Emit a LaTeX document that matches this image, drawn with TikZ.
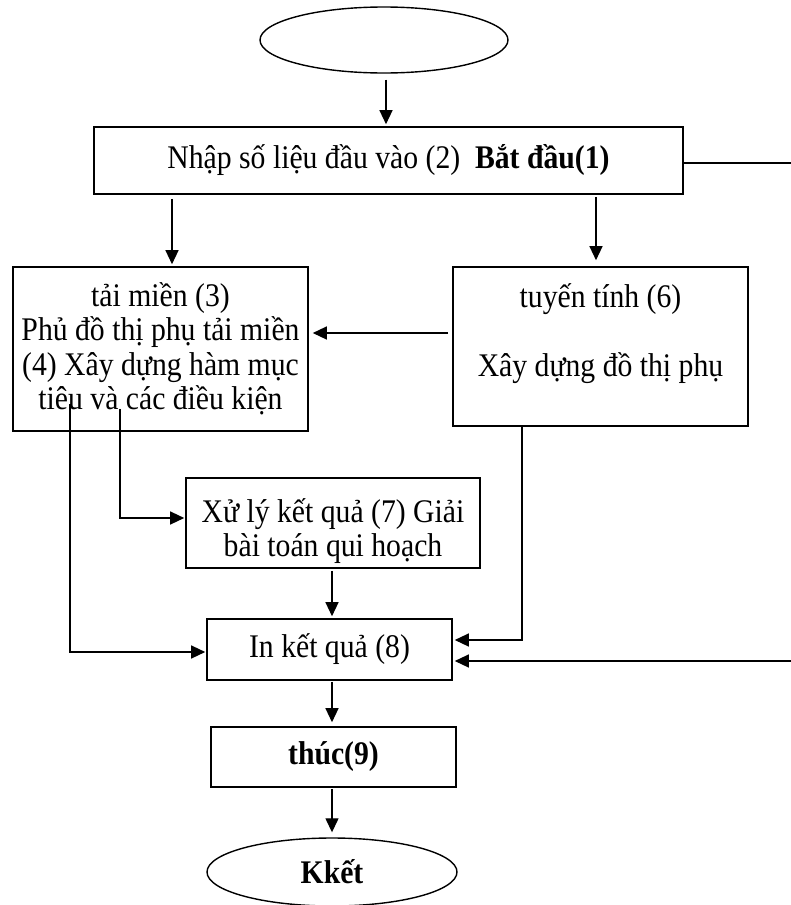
\documentclass[tikz,border=0pt]{standalone}
\usepackage{fontspec}
\setmainfont{Liberation Serif}[FakeStretch=0.9]
\usetikzlibrary{arrows.meta,shapes.geometric}
\tikzset{
  box/.style={draw,line width=1.6pt,rectangle,inner sep=0pt,align=center,
    font=\fontsize{33}{34.5}\selectfont},
  oval/.style={draw,line width=1.4pt,ellipse,inner sep=0pt,
    font=\fontsize{33}{34.5}\selectfont\bfseries},
  arr/.style={line width=1.3pt,-{Triangle[length=14pt,width=13pt]}},
  ln/.style={line width=1.3pt}
}
\begin{document}
\begin{tikzpicture}[x=1pt,y=-1pt]
\useasboundingbox (0,0) rectangle (791,905);
% nodes
\node[oval,minimum width=248pt,minimum height=66pt] (e1) at (384,40) {};
\node[box,minimum width=589pt,minimum height=67pt] (b1) at (388.5,160.5)
  {Nhập số liệu đầu vào (2)~ \textbf{Bắt đầu(1)}};
\node[box,minimum width=295pt,minimum height=164pt] (b3) at (160.5,349)
  {tải miền (3)\\Phủ đồ thị phụ tải miền\\(4) Xây dựng hàm mục\\tiêu và các điều kiện};
\node[box,minimum width=295pt,minimum height=159pt] (b6) at (600.5,346.5)
  {tuyến tính (6)\\\strut\\Xây dựng đồ thị phụ\\[-12pt]\strut};
\node[box,minimum width=294pt,minimum height=90pt] (b7) at (333,523)
  {\rule{0pt}{40pt}Xử lý kết quả (7) Giải\\bài toán qui hoạch};
\node[box,minimum width=245pt,minimum height=61pt] (b8) at (329.5,649.5)
  {In kết quả (8)};
\node[box,minimum width=245pt,minimum height=60pt] (b9) at (333.5,757)
  {\textbf{thúc(9)}};
\node[oval,minimum width=250pt,minimum height=68pt] (e2) at (332,872) {Kkết};
% helper coordinates
\coordinate (xa) at (386,0);
\coordinate (xb) at (172,0);
\coordinate (xc) at (596,0);
\coordinate (xd) at (522,0);
\coordinate (xe) at (70,0);
\coordinate (xf) at (120,0);
\coordinate (xg) at (332,0);
\coordinate (ya) at (0,333);
\coordinate (yb) at (0,640);
\coordinate (yc) at (0,652);
\coordinate (yd) at (0,518);
\coordinate (r1) at (791,163);
\coordinate (r2) at (791,661);
% connectors
\draw[arr,shorten <=6pt,shorten >=2pt] (e1.south -| xa) -- (b1.north -| xa);
\draw[arr,shorten <=4pt,shorten >=2pt] (b1.south -| xb) -- (b3.north -| xb);
\draw[arr,shorten <=2pt,shorten >=6pt] (b1.south -| xc) -- (b6.north -| xc);
\draw[arr,shorten <=4pt,shorten >=4pt] (b6.west |- ya) -- (b3.east |- ya);
\draw[ln] (b1.east |- r1) -- (r1);
\draw[arr,shorten >=2pt] (r2) -- (b8.east |- r2);
\draw[arr,shorten >=2pt] (b6.south -| xd) -- (xd |- yb) -- (b8.east |- yb);
\draw[arr,shorten >=1pt] ([yshift=28pt]b3.south -| xe) -- (xe |- yc) -- (b8.west |- yc);
\draw[arr,shorten >=1pt] ([yshift=23pt]b3.south -| xf) -- (xf |- yd) -- (b7.west |- yd);
\draw[arr,shorten <=2pt,shorten >=2pt] (b7.south -| xg) -- (b8.north -| xg);
\draw[arr,shorten <=1pt,shorten >=4pt] (b8.south -| xg) -- (b9.north -| xg);
\draw[arr,shorten <=1pt,shorten >=5pt] (b9.south -| xg) -- (e2.north -| xg);
\end{tikzpicture}
\end{document}
